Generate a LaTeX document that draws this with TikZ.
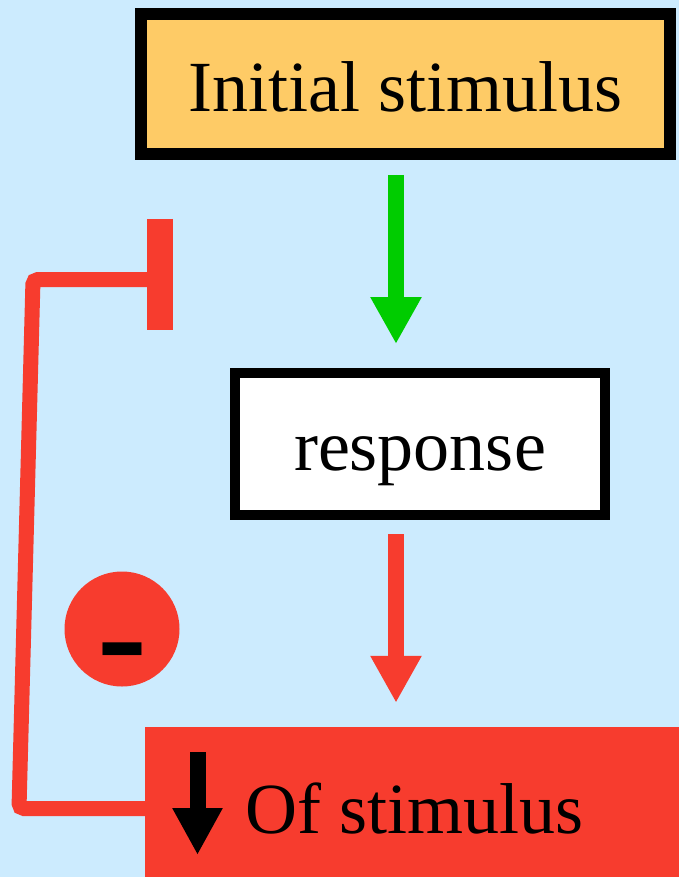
\documentclass[tikz,border=0pt]{standalone}
\usepackage{fontspec}
\setmainfont{Liberation Serif}
\usetikzlibrary{arrows.meta}
\definecolor{bgblue}{HTML}{CCEBFE}
\definecolor{boxorange}{HTML}{FECB66}
\definecolor{fbred}{HTML}{F73C2E}
\definecolor{arrgreen}{HTML}{00CC00}
\begin{document}
\begin{tikzpicture}[x=1pt,y=-1pt,
  textbox/.style={draw=black,rectangle,inner sep=0pt,text depth=0pt,font=\fontsize{72}{80}\selectfont},
  bigarrow/.style={line width=16pt,-{Triangle[width=48pt,length=47pt]}},
  fbline/.style={draw=fbred,line width=15pt,rounded corners=5pt}]
\useasboundingbox[fill=bgblue] (0,0) rectangle (679,877);
\node[textbox,fill=boxorange,line width=12pt,minimum width=529pt,minimum height=140pt,text height=56pt] (init) at (405.5,84) {Initial stimulus};
\node[textbox,fill=white,line width=10pt,minimum width=370pt,minimum height=142pt,text height=52pt] (resp) at (420,444) {response};
\node[rectangle,fill=fbred,inner sep=0pt,minimum width=555pt,minimum height=163pt] (of) at (422.5,808.5) {};
\node[anchor=base,inner sep=0pt,font=\fontsize{72}{80}\selectfont] (oftext) at (414.5,833) {Of stimulus};
\draw[line width=16pt,-{Triangle[width=47pt,length=47pt]}] (197.5,752) -- (197.5,855);
\draw[bigarrow,draw=arrgreen,fill=arrgreen] ([xshift=-9.5pt,yshift=-15pt]init.south) -- ([xshift=-24pt,yshift=24pt]resp.north);
\draw[bigarrow,draw=fbred,fill=fbred] ([xshift=-24pt,yshift=-14pt]resp.south) -- ([xshift=-26.5pt,yshift=24pt]of.north);
\coordinate (tbar) at (160,279.5);
\draw[fbline] (of.west) -- (19,808.5) -- (33,279.5) -- (tbar);
\draw[draw=fbred,line width=26pt] (160,219) -- (160,330);
\node[circle,fill=fbred,minimum size=115pt,inner sep=0pt] (minus) at (122,629) {};
\node[anchor=base,inner sep=0pt,font=\bfseries\fontsize{150}{150}\selectfont] (minustext) at (122,684) {-};
\end{tikzpicture}
\end{document}
